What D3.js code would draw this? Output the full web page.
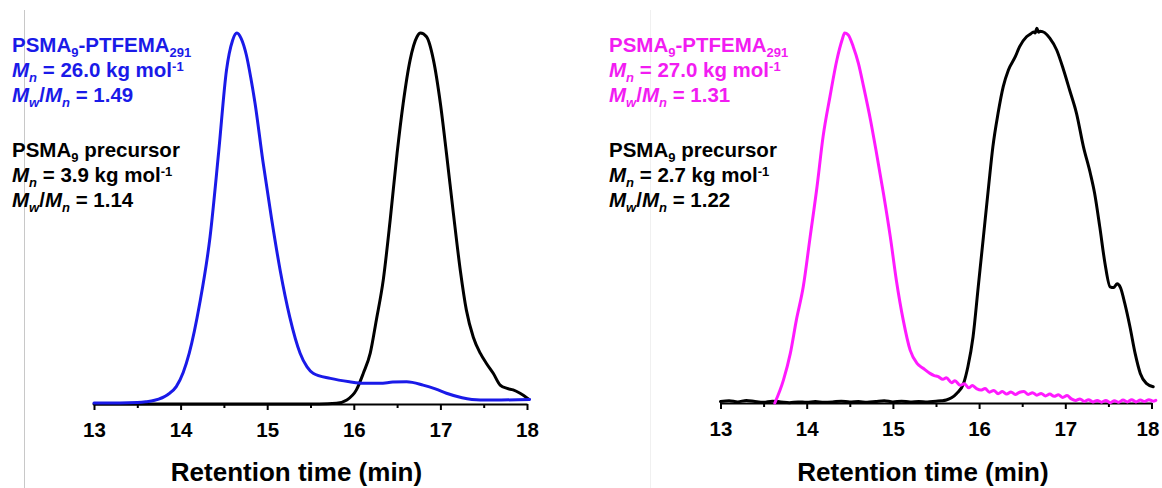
<!DOCTYPE html>
<html><head><meta charset="utf-8">
<script src="https://cdn.jsdelivr.net/npm/d3@7"></script>
<style>
body{margin:0;background:#fff}
svg{display:block}
text{font-family:"Liberation Sans",Arial,Helvetica,sans-serif;font-weight:bold}
</style>
</head><body>
<svg id="c" width="1162" height="488"></svg>
<script>
// ---- data ----
const xTicks = [13, 14, 15, 16, 17, 18];
const xMinorTicks = [13.5, 14.5, 15.5, 16.5, 17.5];
const axisTitle = "Retention time (min)";

// Left panel: PSMA9-PTFEMA291 (blue) and PSMA9 precursor (black), [time, normalised RI]
const leftCopolymer = [
  [13.0,0.003],[13.3,0.003],[13.5,0.004],[13.6,0.006],[13.7,0.01],[13.85,0.025],[13.95,0.047],
  [14.03,0.085],[14.10,0.137],[14.22,0.27],[14.34,0.45],[14.44,0.68],[14.53,0.90],[14.60,0.98],
  [14.65,1.0],[14.70,0.985],[14.76,0.94],[14.81,0.88],[14.86,0.81],[14.95,0.655],[15.05,0.50],
  [15.15,0.36],[15.26,0.235],[15.38,0.137],[15.46,0.10],[15.53,0.083],[15.73,0.069],[15.95,0.06],
  [16.11,0.056],[16.30,0.056],[16.45,0.059],[16.61,0.06],[16.80,0.051],[16.95,0.04],[17.07,0.029],
  [17.25,0.017],[17.46,0.011],[17.7,0.011],[18.03,0.012]
];
const leftPrecursor = [
  [13.0,0.0],[14.0,0.0],[15.0,0.0],[15.6,0.0],[15.8,0.002],[15.92,0.011],[16.03,0.038],[16.11,0.083],
  [16.19,0.137],[16.26,0.226],[16.34,0.334],[16.42,0.496],[16.50,0.676],[16.57,0.81],[16.65,0.927],
  [16.73,0.99],[16.77,1.0],[16.84,0.99],[16.92,0.927],[17.0,0.81],[17.07,0.676],[17.15,0.514],
  [17.23,0.36],[17.30,0.253],[17.38,0.18],[17.46,0.137],[17.53,0.11],[17.61,0.083],[17.69,0.051],
  [17.77,0.042],[17.84,0.038],[17.92,0.029],[18.02,0.013]
];

// Right panel: PSMA9-PTFEMA291 (magenta) and PSMA9 precursor (black)
const rightCopolymer = [
  [13.63,0.0],[13.73,0.062],[13.81,0.134],[13.88,0.224],[13.96,0.314],[14.04,0.449],[14.12,0.585],
  [14.19,0.72],[14.27,0.828],[14.35,0.927],[14.41,0.981],[14.44,1.0],[14.48,0.995],[14.54,0.963],
  [14.60,0.918],[14.66,0.855],[14.74,0.765],[14.81,0.675],[14.89,0.567],[14.97,0.449],[15.04,0.332],
  [15.12,0.224],[15.20,0.143],[15.28,0.107],[15.35,0.094],[15.43,0.080],[15.48,0.074],[15.52,0.072],
  [15.58,0.064],[15.62,0.068],[15.68,0.055],[15.72,0.060],[15.78,0.048],[15.83,0.052],[15.88,0.041],
  [15.92,0.047],[15.97,0.039],[16.02,0.035],[16.07,0.039],[16.12,0.029],[16.17,0.034],[16.22,0.025],
  [16.27,0.031],[16.32,0.024],[16.37,0.030],[16.42,0.023],[16.47,0.029],[16.52,0.031],[16.57,0.023],
  [16.62,0.028],[16.67,0.021],[16.72,0.026],[16.77,0.019],[16.82,0.024],[16.87,0.018],[16.92,0.022],
  [16.97,0.015],[17.02,0.020],[17.07,0.011],[17.12,0.007],[17.17,0.011],[17.22,0.004],[17.27,0.009],
  [17.32,0.003],[17.37,0.007],[17.42,0.002],[17.47,0.007],[17.52,0.001],[17.57,0.006],[17.62,0.002],
  [17.67,0.008],[17.72,0.003],[17.77,0.009],[17.82,0.003],[17.87,0.008],[17.92,0.004],[17.97,0.009],
  [18.02,0.005],[18.05,0.007]
];
const rightPrecursor = [
  [13.0,0.004],[13.1,0.006],[13.2,0.003],[13.3,0.007],[13.4,0.004],[13.5,0.002],[13.6,0.005],
  [13.7,0.003],[13.8,0.001],[13.9,0.003],[14.0,0.002],[14.1,0.004],[14.2,0.002],[14.3,0.003],
  [14.4,0.005],[14.5,0.003],[14.6,0.004],[14.7,0.002],[14.8,0.004],[14.9,0.006],[15.0,0.003],
  [15.1,0.005],[15.2,0.003],[15.3,0.004],[15.4,0.003],[15.5,0.005],[15.56,0.006],[15.62,0.008],
  [15.68,0.014],[15.74,0.026],[15.82,0.053],[15.87,0.098],[15.93,0.179],[15.99,0.314],[16.05,0.449],
  [16.11,0.585],[16.16,0.693],[16.22,0.783],[16.28,0.855],[16.34,0.90],[16.42,0.936],[16.47,0.963],
  [16.55,0.99],[16.60,0.998],[16.63,1.003],[16.65,1.0],[16.67,1.013],[16.69,1.002],[16.71,1.005],
  [16.76,1.001],[16.82,0.986],[16.90,0.954],[16.98,0.90],[17.05,0.846],[17.13,0.783],[17.21,0.693],
  [17.29,0.621],[17.34,0.567],[17.40,0.476],[17.46,0.378],[17.52,0.314],[17.56,0.312],[17.60,0.322],
  [17.64,0.312],[17.69,0.269],[17.75,0.206],[17.81,0.134],[17.87,0.08],[17.94,0.053],[18.02,0.044]
];

const leftLegend = [
  {color:"#1a1ae8", y:52, segs:[{t:"PSMA"},{t:"9",s:"sub"},{t:"-PTFEMA"},{t:"291",s:"sub"}]},
  {color:"#1a1ae8", y:77, segs:[{t:"M",i:1},{t:"n",i:1,s:"sub"},{t:" = 26.0 kg mol"},{t:"-1",s:"sup"}]},
  {color:"#1a1ae8", y:102, segs:[{t:"M",i:1},{t:"w",i:1,s:"sub"},{t:"/"},{t:"M",i:1},{t:"n",i:1,s:"sub"},{t:" = 1.49"}]},
  {color:"#000", y:157, segs:[{t:"PSMA"},{t:"9",s:"sub"},{t:" precursor"}]},
  {color:"#000", y:182, segs:[{t:"M",i:1},{t:"n",i:1,s:"sub"},{t:" = 3.9 kg mol"},{t:"-1",s:"sup"}]},
  {color:"#000", y:207, segs:[{t:"M",i:1},{t:"w",i:1,s:"sub"},{t:"/"},{t:"M",i:1},{t:"n",i:1,s:"sub"},{t:" = 1.14"}]}
];
const rightLegend = [
  {color:"#f21cf2", y:52, segs:[{t:"PSMA"},{t:"9",s:"sub"},{t:"-PTFEMA"},{t:"291",s:"sub"}]},
  {color:"#f21cf2", y:77, segs:[{t:"M",i:1},{t:"n",i:1,s:"sub"},{t:" = 27.0 kg mol"},{t:"-1",s:"sup"}]},
  {color:"#f21cf2", y:102, segs:[{t:"M",i:1},{t:"w",i:1,s:"sub"},{t:"/"},{t:"M",i:1},{t:"n",i:1,s:"sub"},{t:" = 1.31"}]},
  {color:"#000", y:157, segs:[{t:"PSMA"},{t:"9",s:"sub"},{t:" precursor"}]},
  {color:"#000", y:182, segs:[{t:"M",i:1},{t:"n",i:1,s:"sub"},{t:" = 2.7 kg mol"},{t:"-1",s:"sup"}]},
  {color:"#000", y:207, segs:[{t:"M",i:1},{t:"w",i:1,s:"sub"},{t:"/"},{t:"M",i:1},{t:"n",i:1,s:"sub"},{t:" = 1.22"}]}
];

// ---- drawing ----
const svg = d3.select("#c");

// faint panel separators present in the source image
svg.append("line").attr("x1",24.5).attr("x2",24.5).attr("y1",10).attr("y2",488)
  .attr("stroke","#c8c8c8").attr("stroke-width",1);
svg.append("line").attr("x1",650.5).attr("x2",650.5).attr("y1",10).attr("y2",488)
  .attr("stroke","#f0f0f0").attr("stroke-width",1);

const panels = [
  {x0:94, x1:527, yBase:404, yTop:33, titleX:296.5, legendX:12, legend:leftLegend, lastDx:0,
   series:[{d:leftPrecursor,c:"#000"},{d:leftCopolymer,c:"#1a1ae8"}]},
  {x0:720.5, x1:1151.5, yBase:403, yTop:33, titleX:923, legendX:609, legend:rightLegend, lastDx:-4,
   series:[{d:rightPrecursor,c:"#000"},{d:rightCopolymer,c:"#ff1aff"}]}
];

panels.forEach(p => {
  const x = d3.scaleLinear().domain([13,18]).range([p.x0,p.x1]);
  const y = d3.scaleLinear().domain([0,1]).range([p.yBase,p.yTop]);
  const g = svg.append("g");

  // minor ticks
  const minor = g.append("g").attr("transform",`translate(0,${p.yBase})`)
    .call(d3.axisBottom(x).tickValues(xMinorTicks).tickSize(4).tickSizeOuter(0).tickFormat(""));
  minor.select(".domain").remove();
  minor.selectAll("line").attr("stroke","#000").attr("stroke-width",2);

  // major axis
  const ax = g.append("g").attr("transform",`translate(0,${p.yBase})`)
    .call(d3.axisBottom(x).tickValues(xTicks).tickSize(6).tickSizeOuter(0).tickPadding(12).tickFormat(d3.format("d")));
  ax.select(".domain").attr("stroke","#000").attr("stroke-width",2.2);
  ax.selectAll(".tick line").attr("stroke","#000").attr("stroke-width",2);
  ax.selectAll(".tick text").attr("fill","#000").style("font-size","20.5px")
    .style("font-family","'Liberation Sans',Arial,sans-serif").style("font-weight","bold")
    .attr("dx", d => d === 18 ? p.lastDx : 0);

  // axis title
  g.append("text").attr("x",p.titleX).attr("y",481).attr("text-anchor","middle")
    .style("font-size","26px").attr("fill","#000").text(axisTitle);

  // curves
  const line = d3.line().x(d=>x(d[0])).y(d=>y(d[1])).curve(d3.curveMonotoneX);
  p.series.forEach(s => {
    g.append("path").datum(s.d).attr("d",line).attr("fill","none")
      .attr("stroke",s.c).attr("stroke-width",3).attr("stroke-linejoin","round").attr("stroke-linecap","round");
  });

  // legend text
  p.legend.forEach(L => {
    const t = g.append("text").attr("x",p.legendX).attr("y",L.y).attr("fill",L.color).style("font-size","20.5px");
    let cur = 0;
    L.segs.forEach(sg => {
      const target = sg.s==="sub" ? 5 : (sg.s==="sup" ? -6 : 0);
      const ts = t.append("tspan").attr("dy", target - cur).text(sg.t);
      cur = target;
      if (sg.s) ts.style("font-size","13px");
      if (sg.i) ts.style("font-style","italic");
    });
  });
});
</script>
</body></html>
